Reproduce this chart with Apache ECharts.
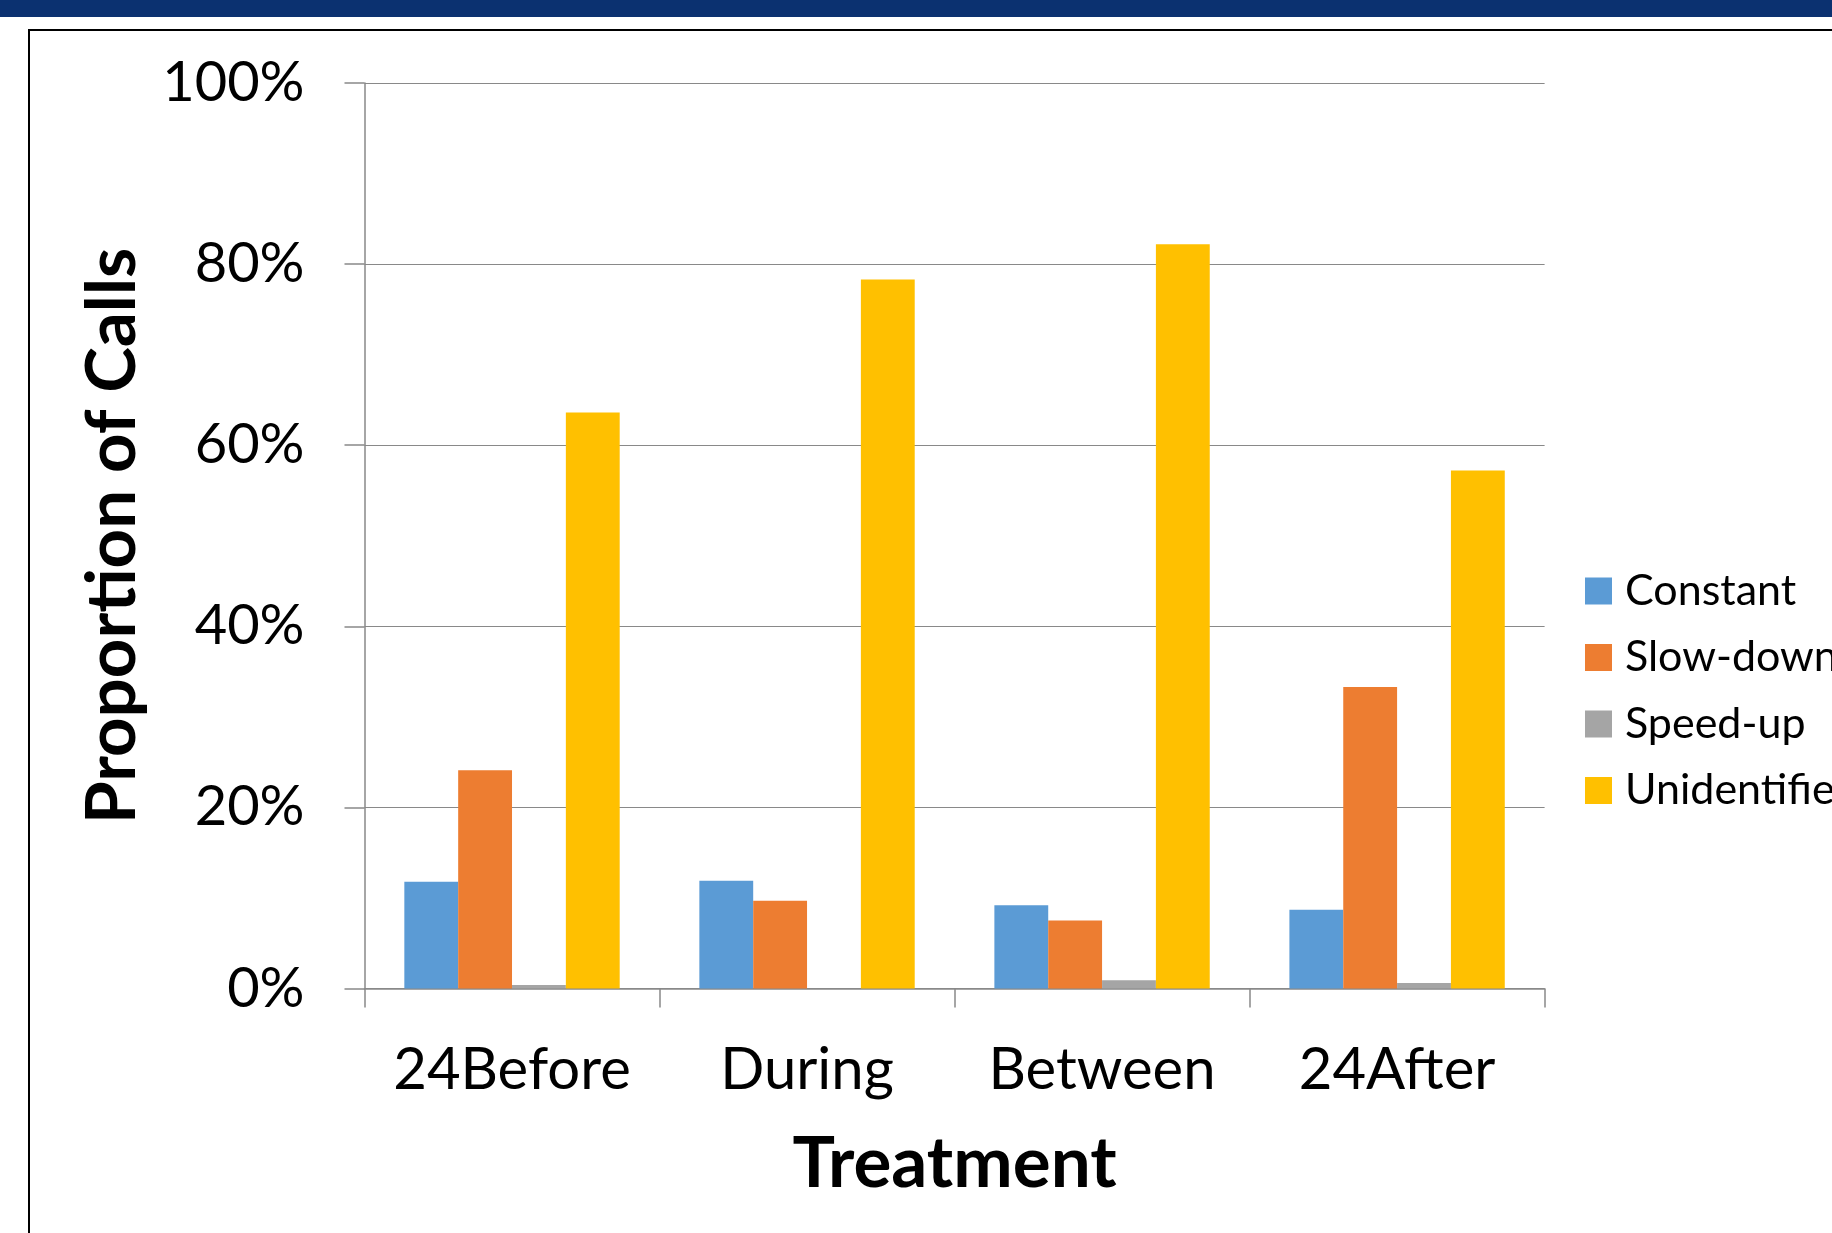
<!DOCTYPE html>
<html><head><meta charset="utf-8">
<script src="https://cdn.jsdelivr.net/npm/echarts@6/dist/echarts.min.js"></script>
<style>html,body{margin:0;padding:0;background:#fff}#c{width:1832px;height:1233px}</style>
</head><body><div id="c"></div>
<script>
const categories = ['24Before', 'During', 'Between', '24After'];
const seriesNames = ['Constant', 'Slow-down', 'Speed-up', 'Unidentified'];
const constant = [0.118, 0.119, 0.092, 0.087];
const slowDown = [0.241, 0.097, 0.075, 0.333];
const speedUp = [0.004, 0.0, 0.009, 0.006];
const unidentified = [0.636, 0.783, 0.822, 0.572];
const yTicks = [0, 0.2, 0.4, 0.6, 0.8, 1.0];
const colors = ['#5B9BD5', '#ED7D31', '#A5A5A5', '#FFC000'];
const values = [constant, slowDown, speedUp, unidentified];

const FONT = 'Lato, "Noto Sans", sans-serif';
const chart = echarts.init(document.getElementById('c'), null, {renderer: 'canvas'});
chart.setOption({
  animation: false,
  backgroundColor: '#fff',
  graphic: [
    {type: 'rect', shape: {x: 0, y: 0, width: 1832, height: 17}, style: {fill: '#0B3170'}, z: 10},
    {type: 'rect', shape: {x: 29, y: 30, width: 2200, height: 2000}, style: {fill: 'none', stroke: '#000', lineWidth: 2}, z: 10}
  ],
  grid: {left: 364.5, right: 287.4, top: 83, bottom: 244.5, containLabel: false},
  legend: {
    orient: 'vertical', left: 1580, top: 564,
    itemWidth: 27, itemHeight: 27, itemGap: 22.5,
    icon: 'rect',
    textStyle: {fontFamily: FONT, fontSize: 43, color: '#000', lineHeight: 44, padding: [0, 0, 0, 8]},
    data: seriesNames
  },
  xAxis: {
    type: 'category', data: categories,
    name: 'Treatment', nameLocation: 'middle', nameGap: 140,
    nameTextStyle: {fontFamily: FONT, fontSize: 71, fontWeight: 'bold', color: '#000'},
    axisLine: {show: true, lineStyle: {color: '#898989', width: 1.5}},
    axisTick: {show: true, interval: 0, length: 19, lineStyle: {color: '#898989', width: 1.5}},
    axisLabel: {interval: 0, fontFamily: FONT, fontSize: 58, color: '#000', margin: 53}
  },
  yAxis: {
    type: 'value', min: 0, max: 1, interval: 0.2,
    name: 'Proportion of Calls', nameLocation: 'middle', nameGap: 217, nameRotate: 90,
    nameTextStyle: {fontFamily: FONT, fontSize: 69, fontWeight: 'bold', color: '#000'},
    axisLine: {show: true, lineStyle: {color: '#898989', width: 1.5}},
    axisTick: {show: true, length: 20, lineStyle: {color: '#898989', width: 1.5}},
    splitLine: {show: true, lineStyle: {color: '#898989', width: 1.2}},
    axisLabel: {fontFamily: FONT, fontSize: 56, color: '#000', margin: 60,
      formatter: v => { const t = yTicks.find(x => Math.abs(x - v) < 1e-9); return Math.round((t === undefined ? v : t) * 100) + '%'; }}
  },
  series: seriesNames.map((n, i) => ({
    name: n, type: 'bar', data: values[i],
    barGap: '0%', barCategoryGap: '27%',
    itemStyle: {color: colors[i]}
  }))
});
</script></body></html>
